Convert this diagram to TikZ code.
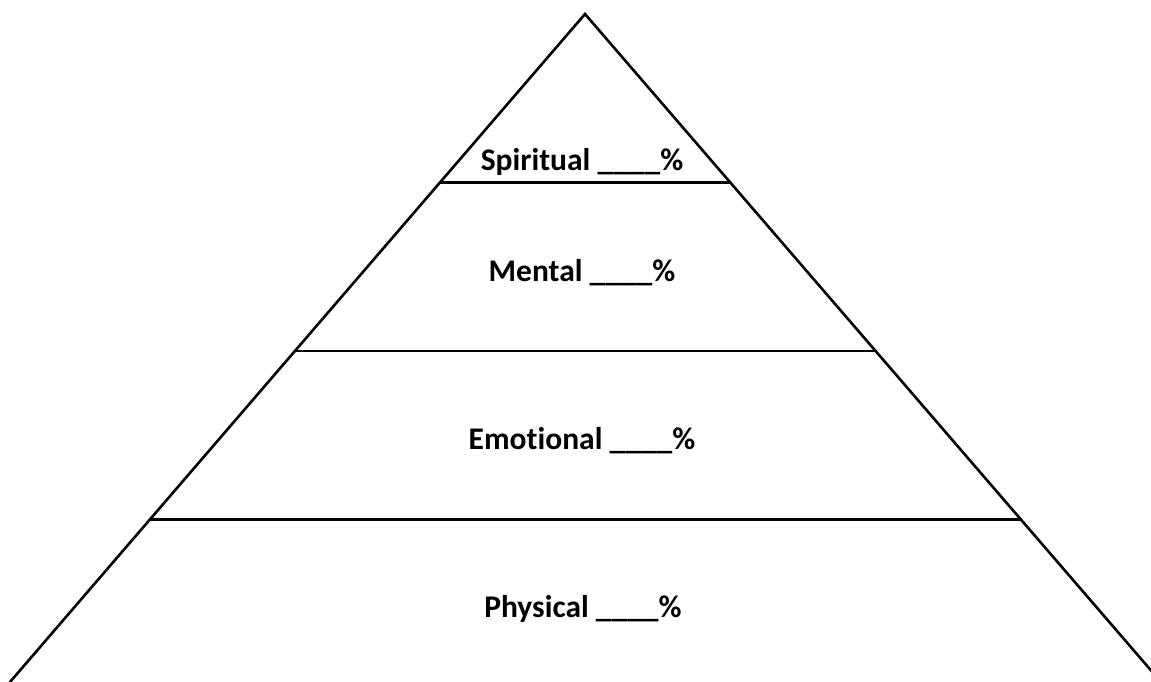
\documentclass[tikz,border=0pt]{standalone}
\usepackage{fontspec}
\setmainfont{Carlito}[Ligatures=NoCommon]
\usetikzlibrary{calc}

\begin{document}
\begin{tikzpicture}[
    x=1pt,y=-1pt,
    edge/.style ={line width=2.6pt,line cap=round},
    level/.style={font=\bfseries\fontsize{31.5}{36}\selectfont,anchor=center},
  ]
  \useasboundingbox (0,0) rectangle (1151,681);

  %% Outline
  \coordinate (apex)  at (585,14);
  \coordinate (left)  at (10,682);
  \coordinate (right) at (1161,682);
  \draw[edge] (left) -- (apex) -- (right);

  %% Dividers
  \foreach \name/\t in {d1/0.2523,d2/0.5045,d3/0.7568}{
    \coordinate (\name l) at ($(apex)!\t!(left)$);
    \coordinate (\name r) at ($(apex)!\t!(right)$);
    \draw[edge] (\name l) -- (\name r);
  }

  %% Labels
  \node[level] (spiritual) at (582,162) {Spiritual \_\_\_\_\%};
  \node[level] (mental)    at (582,273) {Mental \_\_\_\_\%};
  \node[level] (emotional) at (582,441) {Emotional \_\_\_\_\%};
  \node[level] (physical)  at (583,609) {Physical \_\_\_\_\%};
\end{tikzpicture}
\end{document}
